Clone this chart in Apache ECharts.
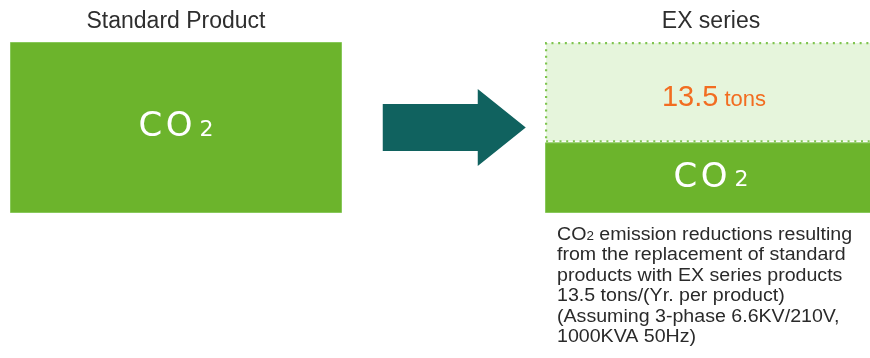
<!DOCTYPE html>
<html>
<head>
<meta charset="utf-8">
<script src="https://cdn.jsdelivr.net/npm/echarts@6/dist/echarts.min.js"></script>
<style>
html,body{margin:0;padding:0;background:#fff;}
#chart{width:870px;height:358px;}
</style>
</head>
<body>
<div id="chart"></div>
<script>
// ---- data ----
const categories = ['Standard Product', '', 'EX series'];
const co2Values = [23, null, 9.5];          // remaining CO2 (tons)
const reductionValues = [null, null, 13.5]; // reduction (tons)
const reductionUnit = 'tons';
const noteLines = [
  '{n|CO}{s|2}{n| emission reductions resulting}',
  '{n|from the replacement of standard}',
  '{n|products with EX series products}',
  '{n|13.5 tons/(Yr. per product)}',
  '{n|(Assuming 3-phase 6.6KV/210V,}',
  '{n|1000KVA 50Hz)}'
];

const arrowPath = 'path://M0 15 L95 15 L95 0 L143 38.5 L95 77 L95 62 L0 62 Z';
const co2Rich = {
  c: {fontFamily: 'DejaVu Sans', fontSize: 34, lineHeight: 34, color: '#fff', verticalAlign: 'bottom', padding: [0, 3.5, 0, 0]},
  o: {fontFamily: 'DejaVu Sans', fontSize: 34, lineHeight: 34, color: '#fff', verticalAlign: 'bottom', padding: [0, 7, 0, 0]},
  t: {fontFamily: 'DejaVu Sans', fontSize: 22, color: '#fff', verticalAlign: 'bottom', padding: [0, 0, 3, 0]}
};

const chart = echarts.init(document.getElementById('chart'));
chart.setOption({
  animation: false,
  grid: {left: 42.25, right: 25.25, top: 42, bottom: 145, containLabel: false, outerBoundsMode: 'none'},
  xAxis: {
    type: 'category',
    data: categories,
    position: 'top',
    axisLine: {show: false},
    axisTick: {show: false},
    splitLine: {show: false},
    axisLabel: {fontFamily: 'Liberation Sans', fontSize: 23, color: '#2e2e2e', margin: 8.5, interval: 0}
  },
  yAxis: {type: 'value', min: 0, max: 23, show: false},
  series: [
    {
      type: 'bar', name: 'CO2', stack: 'total', barWidth: 332, clip: false,
      data: co2Values,
      itemStyle: {color: '#6cb42c', borderColor: '#88c85a', borderWidth: 1},
      label: {
        show: true, position: 'inside',
        formatter: function (p) { return '{c|C}{o|O}{t|2}'; },
        rich: co2Rich
      },
      z: 2
    },
    {
      type: 'bar', name: 'Reduction', stack: 'total', barWidth: 332, clip: false,
      data: reductionValues,
      itemStyle: {color: '#e6f5dc', borderColor: '#7fc44f', borderWidth: 2.2, borderType: [2, 4.7]},
      label: {
        show: true, position: 'inside', offset: [3, 6],
        formatter: function (p) { return '{n|' + p.value + '}{u| ' + reductionUnit + '}'; },
        rich: {
          n: {fontFamily: 'Liberation Sans', fontSize: 29, lineHeight: 29, color: '#f26d21', verticalAlign: 'bottom'},
          u: {fontFamily: 'Liberation Sans', fontSize: 22, color: '#f26d21', verticalAlign: 'bottom', padding: [0, 0, 2, 0]}
        }
      },
      z: 3
    },
    {
      type: 'scatter', name: 'arrow',
      data: [[1, co2Values[0] / 2]],
      symbol: arrowPath, symbolSize: [143, 77], symbolKeepAspect: false,
      symbolOffset: [10.75, 0],
      itemStyle: {color: '#10625f', opacity: 1},
      silent: true, z: 4
    }
  ],
  graphic: [
    {
      type: 'text', x: 557, y: 223.7, scaleX: 1.12, scaleY: 1, originX: 0, originY: 0,
      style: {
        text: noteLines.join('\n'),
        align: 'left', verticalAlign: 'top',
        fontFamily: 'Liberation Sans', fontSize: 17.5, lineHeight: 20.4, fill: '#2a2a2a',
        rich: {
          n: {fontFamily: 'Liberation Sans', fontSize: 17.5, lineHeight: 20.4, fill: '#2a2a2a', verticalAlign: 'bottom'},
          s: {fontFamily: 'Liberation Sans', fontSize: 12, fill: '#2a2a2a', verticalAlign: 'bottom', padding: [0, 0, 1, 0]}
        }
      }
    }
  ]
});
</script>
</body>
</html>
